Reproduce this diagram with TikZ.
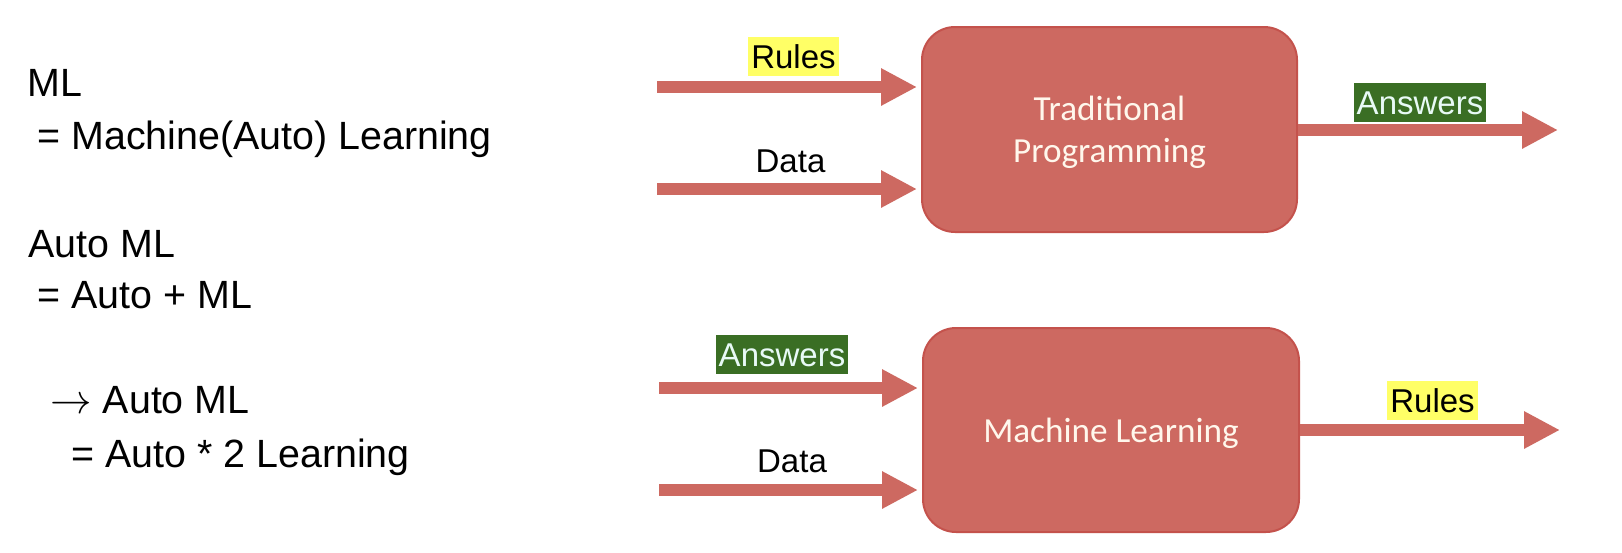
\documentclass[tikz,border=0pt]{standalone}
\usepackage{fontspec}
\setmainfont{Liberation Sans}
\newfontfamily\calib{Carlito}
\usetikzlibrary{arrows.meta}
\definecolor{boxfill}{RGB}{205,105,97}
\definecolor{boxline}{RGB}{196,82,76}
\definecolor{hlgreen}{RGB}{58,110,36}
\definecolor{hlgreentext}{RGB}{232,250,246}
\definecolor{hlyellow}{RGB}{255,255,102}
\definecolor{boxtext}{RGB}{255,247,236}
\tikzset{
  lefttext/.style={anchor=base west, inner sep=0pt, font=\fontsize{19.7}{24}\selectfont},
  procbox/.style={draw=boxline, line width=1pt, fill=boxfill, rounded corners=16.5pt,
    text=boxtext, font=\calib\fontsize{17.6}{21}\selectfont, align=center,
    text depth=0pt, inner sep=0pt},
  flow/.style={draw=boxfill, line width=6pt,
    -{Triangle[length=18pt, width=17.5pt]}},
  lbl/.style={font=\fontsize{16.5}{19}\selectfont, inner xsep=1.5pt, inner ysep=0pt,
    text height=12pt, text depth=0pt, minimum height=19.5pt},
  yellowlbl/.style={lbl, fill=hlyellow, text=black},
  greenlbl/.style={lbl, fill=hlgreen, text=hlgreentext},
  plainlbl/.style={lbl, text=black}
}
\begin{document}
\begin{tikzpicture}[x=0.5pt, y=-0.5pt]
  \path[use as bounding box, fill=white] (0,0) rectangle (1622,552);

  % left text
  \node[lefttext] (ml) at (27,96) {ML};
  \node[lefttext] (mldef) at (37,149) {= Machine(Auto) Learning};
  \node[lefttext] (aml) at (28,257) {Auto ML};
  \node[lefttext] (amldef) at (37,308) {= Auto + ML};
  \node[lefttext] (amltwo) at (50,413) {$\rightarrow$ Auto ML};
  \node[lefttext] (amltwodef) at (71,467) {= Auto * 2 Learning};

  % boxes
  \node[procbox, minimum width=187.5pt, minimum height=102.5pt] (tp) at (1109.5,129.5)
    {Traditional\\Programming};
  \node[procbox, minimum width=188pt, minimum height=102pt] (mlbox) at (1111,430)
    {Machine Learning};

  % arrow end coordinates
  \coordinate (s1) at (657,87);
  \coordinate (s2) at (657,189);
  \coordinate (s3) at (659,388);
  \coordinate (s4) at (659,490);
  \coordinate (e1) at (1558,130);
  \coordinate (e2) at (1560,430);

  % arrows
  \draw[flow, shorten >=2pt] (s1) -- (tp.west |- s1);
  \draw[flow, shorten >=2pt] (s2) -- (tp.west |- s2);
  \draw[flow, shorten >=2pt] (s3) -- (mlbox.west |- s3);
  \draw[flow, shorten >=2pt] (s4) -- (mlbox.west |- s4);
  \draw[flow] (tp.east |- e1) -- (e1);
  \draw[flow] (mlbox.east |- e2) -- (e2);

  % labels
  \node[yellowlbl] (rulesin) at (793.5,56.5) {Rules};
  \node[plainlbl] (datain) at (790.5,160) {Data};
  \node[greenlbl] (answersout) at (1420,102.5) {Answers};
  \node[greenlbl] (answersin) at (782,354) {Answers};
  \node[plainlbl] (datain2) at (792,460) {Data};
  \node[yellowlbl] (rulesout) at (1432.5,400.5) {Rules};
\end{tikzpicture}
\end{document}
